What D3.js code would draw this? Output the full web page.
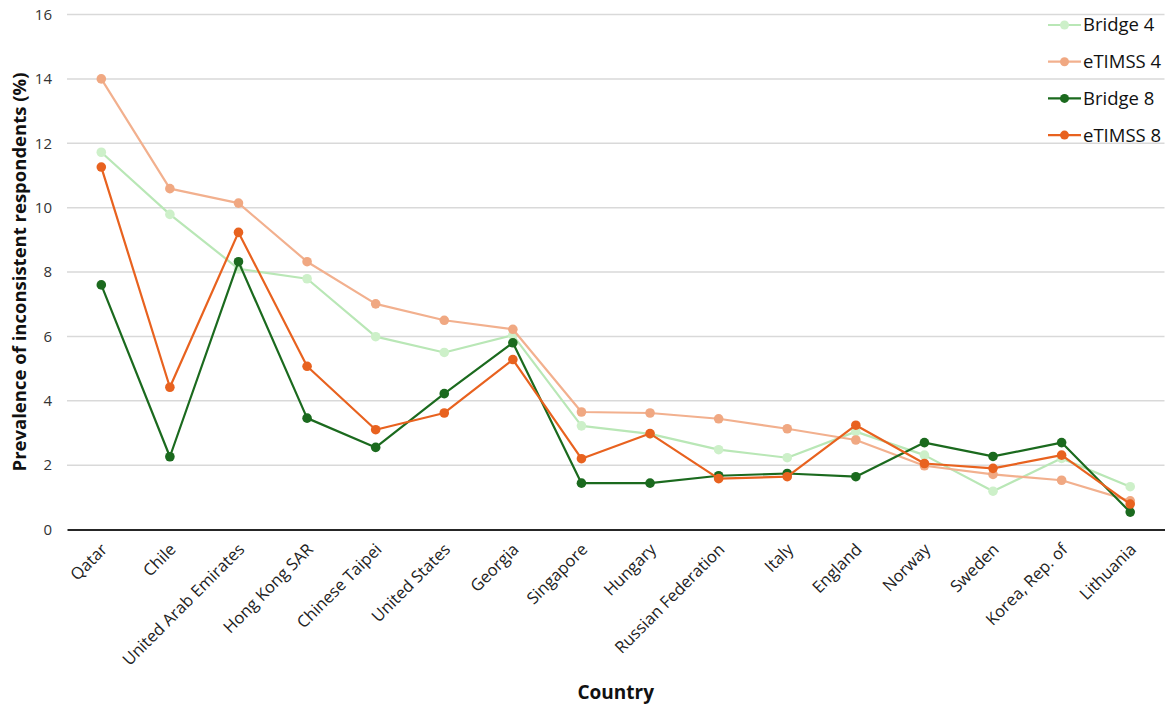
<!DOCTYPE html>
<html>
<head>
<meta charset="utf-8">
<script src="https://cdn.jsdelivr.net/npm/d3@7"></script>
<style>
  body { margin: 0; background: #fff; }
  svg { display: block; font-family: "Open Sans", "Noto Sans", sans-serif; }
</style>
</head>
<body>
<div id="chart-area"></div>
<script>
// categories and series
const countries = ['Qatar', 'Chile', 'United Arab Emirates', 'Hong Kong SAR', 'Chinese Taipei',
    'United States', 'Georgia', 'Singapore', 'Hungary', 'Russian Federation', 'Italy',
    'England', 'Norway', 'Sweden', 'Korea, Rep. of', 'Lithuania'];

const bridge4 = [11.72, 9.79, 8.1, 7.79, 5.99, 5.50, 6.04, 3.22, 2.97, 2.48, 2.23, 3.04, 2.31, 1.19, 2.21, 1.33];
const etimss4 = [14.0, 10.59, 10.14, 8.32, 7.01, 6.50, 6.22, 3.65, 3.62, 3.44, 3.13, 2.78, 1.98, 1.71, 1.53, 0.89];
const bridge8 = [7.6, 2.26, 8.32, 3.46, 2.55, 4.22, 5.80, 1.44, 1.44, 1.67, 1.74, 1.64, 2.70, 2.27, 2.70, 0.54];
const etimss8 = [11.26, 4.42, 9.23, 5.07, 3.10, 3.62, 5.28, 2.20, 2.98, 1.58, 1.64, 3.24, 2.05, 1.90, 2.31, 0.79];

const yTicks = [0, 2, 4, 6, 8, 10, 12, 14, 16];

const series = [
    { name: 'Bridge 4', values: bridge4, line: '#b9e7b6', dot: '#cdf0c9' },
    { name: 'eTIMSS 4', values: etimss4, line: '#f2b08e', dot: '#f0a882' },
    { name: 'Bridge 8', values: bridge8, line: '#1b6a1e', dot: '#1b6a1e' },
    { name: 'eTIMSS 8', values: etimss8, line: '#e8621f', dot: '#e8621f' }
];

const width = 1170;
const height = 713;
const margin = { top: 14.5, right: 5.5, bottom: 183.5, left: 67 };

const svg = d3.select('#chart-area')
    .append('svg')
    .attr('width', width)
    .attr('height', height);

const x = d3.scaleBand()
    .domain(countries)
    .range([margin.left, width - margin.right]);

const y = d3.scaleLinear()
    .domain([0, 16])
    .range([height - margin.bottom, margin.top]);

// gridlines
svg.append('g')
    .selectAll('line')
    .data(yTicks.filter(d => d > 0))
    .enter()
    .append('line')
    .attr('x1', margin.left)
    .attr('x2', width - margin.right)
    .attr('y1', d => y(d))
    .attr('y2', d => y(d))
    .attr('stroke', '#d9d9d9')
    .attr('stroke-width', 1.5);

// y axis labels
const yAxis = svg.append('g')
    .attr('transform', `translate(${margin.left},0)`)
    .call(d3.axisLeft(y).tickValues(yTicks).tickSize(0).tickPadding(15));
yAxis.select('.domain').remove();
yAxis.selectAll('text')
    .attr('font-size', 15)
    .attr('fill', '#333')
    .style('font-family', '"Open Sans", sans-serif');

// x axis
const xAxis = svg.append('g')
    .attr('transform', `translate(0,${y(0)})`)
    .call(d3.axisBottom(x).tickSize(0).tickSizeOuter(0));
xAxis.select('.domain')
    .attr('stroke', '#262626')
    .attr('stroke-width', 2.2);
xAxis.selectAll('text')
    .attr('font-size', 16.5)
    .attr('fill', '#222')
    .style('font-family', '"Open Sans", sans-serif')
    .attr('text-anchor', 'end')
    .attr('dy', 0)
    .attr('y', 0)
    .attr('transform', 'translate(7,21) rotate(-45)');

// lines + markers
const line = d3.line()
    .x((d, i) => x(countries[i]) + x.bandwidth() / 2)
    .y(d => y(d));

series.forEach(s => {
    const g = svg.append('g').attr('class', 'series');
    g.append('path')
        .datum(s.values)
        .attr('fill', 'none')
        .attr('stroke', s.line)
        .attr('stroke-width', 2.2)
        .attr('stroke-linejoin', 'round')
        .attr('d', line);
    g.selectAll('circle')
        .data(s.values)
        .enter()
        .append('circle')
        .attr('cx', (d, i) => x(countries[i]) + x.bandwidth() / 2)
        .attr('cy', d => y(d))
        .attr('r', 4.8)
        .attr('fill', s.dot);
});

// legend
const legend = svg.append('g')
    .attr('transform', 'translate(1048,25)');
series.forEach((s, i) => {
    const row = legend.append('g').attr('transform', `translate(0,${i * 36.7})`);
    row.append('line')
        .attr('x1', 0).attr('x2', 33)
        .attr('stroke', s.line)
        .attr('stroke-width', 2.2);
    row.append('circle')
        .attr('cx', 16.5)
        .attr('r', 4.5)
        .attr('fill', s.dot);
    row.append('text')
        .attr('x', 35)
        .attr('dy', '0.35em')
        .attr('font-size', 18.5)
        .attr('fill', '#111')
        .text(s.name);
});

// axis titles
svg.append('text')
    .attr('x', (margin.left + width - margin.right) / 2)
    .attr('y', 699)
    .attr('text-anchor', 'middle')
    .attr('font-size', 19)
    .attr('font-weight', 'bold')
    .attr('fill', '#111')
    .text('Country');

svg.append('text')
    .attr('transform', `translate(26,${(y(0) + y(16)) / 2}) rotate(-90)`)
    .attr('text-anchor', 'middle')
    .attr('font-size', 18.5)
    .attr('font-weight', 'bold')
    .attr('fill', '#111')
    .text('Prevalence of inconsistent respondents (%)');
</script>
</body>
</html>
